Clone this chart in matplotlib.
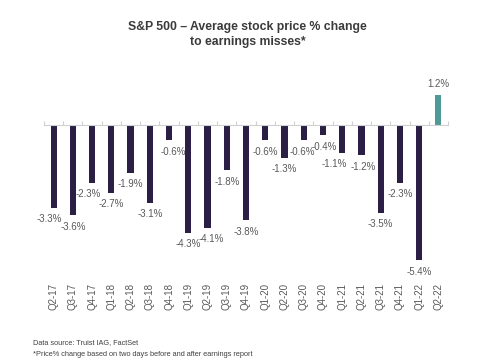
import matplotlib
matplotlib.use('Agg')
import matplotlib.pyplot as plt
import matplotlib.transforms as mtransforms

quarters = ['Q2-17', 'Q3-17', 'Q4-17', 'Q1-18', 'Q2-18', 'Q3-18', 'Q4-18',
            'Q1-19', 'Q2-19', 'Q3-19', 'Q4-19', 'Q1-20', 'Q2-20', 'Q3-20',
            'Q4-20', 'Q1-21', 'Q2-21', 'Q3-21', 'Q4-21', 'Q1-22', 'Q2-22']
changes = [-3.3, -3.6, -2.3, -2.7, -1.9, -3.1, -0.6,
           -4.3, -4.1, -1.8, -3.8, -0.6, -1.3, -0.6,
           -0.4, -1.1, -1.2, -3.5, -2.3, -5.4, 1.2]

# small horizontal nudges (points) for labels that crowd each other
nudge = {'Q2-17': -3, 'Q4-17': -3, 'Q4-18': 3, 'Q2-19': 3,
         'Q3-20': -1, 'Q4-20': 1, 'Q1-21': -6, 'Q2-21': 1}

plt.rcParams['font.family'] = ['Liberation Sans', 'DejaVu Sans']

fig = plt.figure(figsize=(4.85, 3.6), dpi=100)
ax = fig.add_axes([44 / 485, 0.25, (448 - 44) / 485, 0.5])

neg_color = '#2b1f45'
pos_color = '#4f9a96'
colors = [pos_color if v > 0 else neg_color for v in changes]
x = list(range(len(quarters)))
ax.bar(x, changes, width=0.32, color=colors, zorder=2)

ax.set_xlim(-0.5, len(quarters) - 0.5)
ax.set_ylim(-5.8, 1.4)

# value labels
for xi, q, v in zip(x, quarters, changes):
    off = 8 if v > 0 else -8.5
    ax.annotate(f'{v:.1f}%', (xi, v), xytext=(nudge.get(q, 0), off), textcoords='offset points',
                ha='center', va='center', fontsize=7, color='#595959')

# category labels under the plot
trans = mtransforms.blended_transform_factory(ax.transData, ax.transAxes)
for xi, q in zip(x, quarters):
    ax.text(xi, -0.07, q, transform=trans, rotation=90, ha='center', va='top',
            fontsize=7, color='#595959')

for s in ['top', 'right', 'left']:
    ax.spines[s].set_visible(False)
ax.spines['bottom'].set_position(('data', 0))
ax.spines['bottom'].set_color('#d0d0d0')
ax.spines['bottom'].set_linewidth(0.8)
ax.set_yticks([])
ax.set_xticks([i - 0.5 for i in range(len(quarters) + 1)])
ax.set_xticklabels([])
ax.tick_params(axis='x', direction='in', length=3, color='#d0d0d0', width=0.8)

fig.text(0.51, 1 - 27 / 360, 'S&P 500 – Average stock price % change',
         ha='center', va='center', fontsize=8.8, fontweight='bold', color='#3a3a3a')
fig.text(0.51, 1 - 42 / 360, 'to earnings misses*',
         ha='center', va='center', fontsize=8.8, fontweight='bold', color='#3a3a3a')

fig.text(33 / 485, 1 - 343 / 360, 'Data source: Truist IAG, FactSet',
         ha='left', va='center', fontsize=5.3, color='#404040')
fig.text(33 / 485, 1 - 354 / 360, '*Price% change based on two days before and after earnings report',
         ha='left', va='center', fontsize=5.3, color='#404040')

fig.savefig('out.png', dpi=100, facecolor='white')
